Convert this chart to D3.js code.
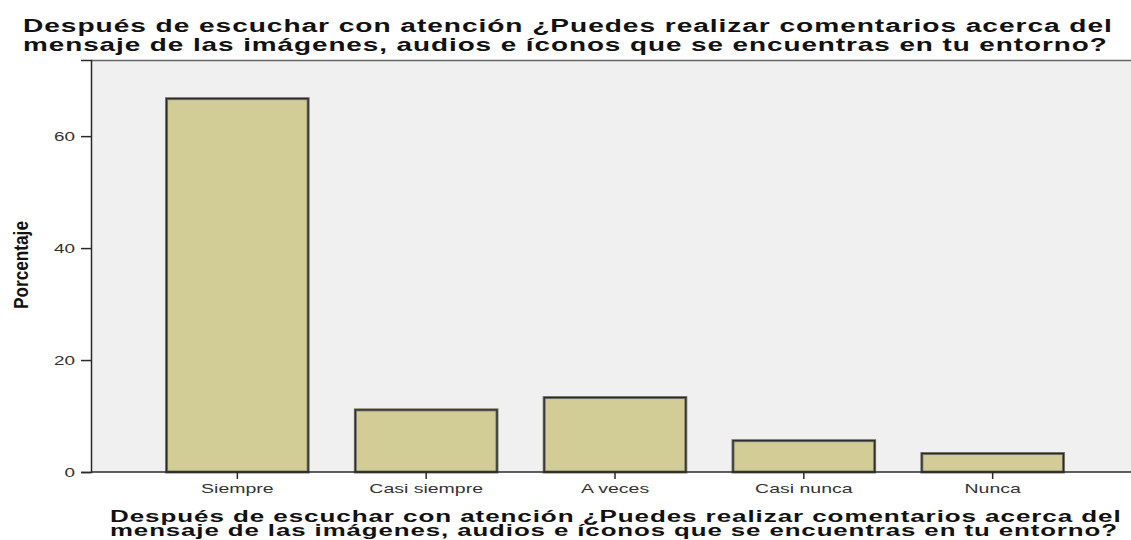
<!DOCTYPE html>
<html>
<head>
<meta charset="utf-8">
<script src="https://cdn.jsdelivr.net/npm/d3@7"></script>
<style>
  body { margin: 0; background: #fff; }
  text { font-family: "Liberation Sans", Arial, sans-serif; }
</style>
</head>
<body>
<svg id="chart"></svg>
<script>
var categories = ["Siempre", "Casi siempre", "A veces", "Casi nunca", "Nunca"];
var percentages = [66.7, 11.1, 13.3, 5.6, 3.3];
var yTicks = [0, 20, 40, 60];
var titleLines = [
    "Después de escuchar con atención ¿Puedes realizar comentarios acerca del",
    "mensaje de las imágenes, audios e íconos que se encuentras en tu entorno?"
];
var yLabel = "Porcentaje";

var width = 1131;
var height = 540;
var margin = {top: 60, left: 91, right: -8, bottom: 68};

var svg = d3.select("#chart")
    .attr("width", width)
    .attr("height", height);

// the reference text looks stretched sideways, so stretch to a given width
function fitWidth(sel, x0, y0, target) {
    var w = sel.node().getComputedTextLength();
    sel.attr("x", 0).attr("y", 0)
        .attr("transform", `translate(${x0},${y0}) scale(${target / w},1)`);
}

var x = d3.scaleBand()
    .domain(categories)
    .range([margin.left, width - margin.right])
    .paddingInner(0.25)
    .paddingOuter(0.4);

var y = d3.scaleLinear()
    .domain([0, 73.6])
    .range([height - margin.bottom, margin.top]);

// plot background
svg.append("rect")
    .attr("x", margin.left)
    .attr("y", margin.top)
    .attr("width", width - margin.left)
    .attr("height", y(0) - margin.top)
    .attr("fill", "#f0f0f0");

// top frame line
svg.append("line")
    .attr("x1", margin.left).attr("x2", width)
    .attr("y1", margin.top + 0.5).attr("y2", margin.top + 0.5)
    .attr("stroke", "#666")
    .attr("stroke-width", 1.5);

// bars (with a small shadow edge)
var bars = svg.selectAll(".bar")
    .data(percentages)
    .enter().append("g")
    .attr("class", "bar");

bars.append("rect")
    .attr("x", function(d, i) { return x(categories[i]); })
    .attr("y", function(d) { return y(d); })
    .attr("width", x.bandwidth())
    .attr("height", function(d) { return y(0) - y(d); })
    .attr("fill", "#d2cd96")
    .attr("stroke", "#77766a")
    .attr("stroke-width", 3);

bars.append("rect")
    .attr("x", function(d, i) { return x(categories[i]); })
    .attr("y", function(d) { return y(d); })
    .attr("width", x.bandwidth())
    .attr("height", function(d) { return y(0) - y(d); })
    .attr("fill", "none")
    .attr("stroke", "#2a2a2a")
    .attr("stroke-width", 1.2);

// axes
var yAxis = svg.append("g")
    .attr("class", "axis")
    .attr("transform", `translate(${margin.left},0)`)
    .call(d3.axisLeft(y).tickValues(yTicks).tickSize(10).tickPadding(4));

var xAxis = svg.append("g")
    .attr("class", "axis")
    .attr("transform", `translate(0,${y(0)})`)
    .call(d3.axisBottom(x).tickSize(7).tickPadding(6).tickSizeOuter(0));

svg.selectAll(".axis path, .axis line")
    .attr("stroke", "#2a2a2a")
    .attr("stroke-width", 1.5);

svg.selectAll(".axis text")
    .attr("font-family", "'Liberation Sans', Arial, sans-serif")
    .attr("font-size", 13)
    .attr("fill", "#333");

yAxis.selectAll(".tick text")
    .attr("x", 0)
    .attr("transform", "translate(-16,0) scale(1.45,1)");

xAxis.selectAll(".tick text")
    .attr("y", 0)
    .attr("dy", 0)
    .attr("transform", "translate(0,21) scale(1.5,1)");

xAxis.select(".domain").attr("d", `M${margin.left},0H${width}`);

// y label
svg.append("text")
    .attr("text-anchor", "middle")
    .attr("font-weight", "bold")
    .attr("font-size", 20)
    .attr("fill", "#111")
    .text(yLabel)
    .call(function(t) {
        var w = t.node().getComputedTextLength();
        t.attr("transform", `translate(28,265) rotate(-90) scale(${88 / w},1)`);
    });

// top title
var topTitle = [{y: 32, x: 23, len: 1090}, {y: 51, x: 23, len: 1085}];
topTitle.forEach(function(t, i) {
    svg.append("text")
        .attr("font-weight", "bold")
        .attr("font-size", 18)
        .attr("letter-spacing", 0.6)
        .attr("fill", "#111")
        .text(titleLines[i])
        .call(fitWidth, t.x, t.y, t.len);
});

// bottom title
var bottomTitle = [{y: 522, x: 110, len: 1012}, {y: 536, x: 110, len: 1008}];
bottomTitle.forEach(function(t, i) {
    svg.append("text")
        .attr("font-weight", "bold")
        .attr("font-size", 17)
        .attr("letter-spacing", 0.6)
        .attr("fill", "#111")
        .text(titleLines[i])
        .call(fitWidth, t.x, t.y, t.len);
});
</script>
</body>
</html>
